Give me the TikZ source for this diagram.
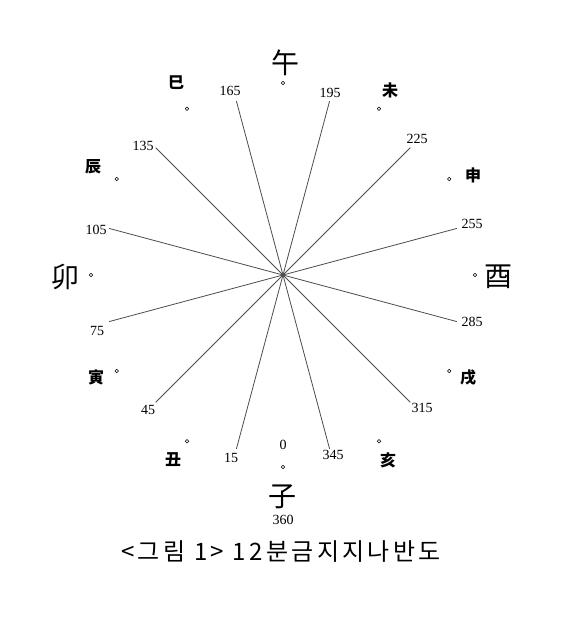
\documentclass[tikz,border=0pt]{standalone}
\usepackage{fontspec}
\setmainfont{Liberation Serif}
\newfontfamily\cjk{Noto Sans CJK KR}
\newfontfamily\capfont[LetterSpace=14]{Noto Sans CJK KR}
\begin{document}
\begin{tikzpicture}[x=1pt,y=-1pt,
  ray/.style={draw=black!70, line width=0.8pt},
  num/.style={font=\fontsize{14}{14}\selectfont, inner sep=0pt},
  bigch/.style={font=\cjk\fontsize{28}{28}\selectfont, inner sep=0pt},
  smallch/.style={font=\cjk\bfseries\fontsize{16}{16}\selectfont, inner sep=0pt},
  ring/.style={circle, draw=black, line width=0.5pt, inner sep=0pt, minimum size=3.5pt}]
\useasboundingbox (0,0) rectangle (562,622);
\coordinate (O) at (283,275);
% ray end points
\foreach \n in {15,45,75,105,135,165,195,225,255,285,315,345}
  \coordinate (e\n) at ([shift={(O)}] \n-270:180);
\foreach \n in {15,45,75,105,135,165}{
  \pgfmathtruncatemacro{\m}{\n+180}
  \draw[ray] (e\n) -- (e\m);
}
% number labels
\node[num] (n0) at (283,445) {0};
\node[num] (n15) at (231,458) {15};
\node[num] (n45) at (148,410) {45};
\node[num] (n75) at (97,331) {75};
\node[num] (n105) at (96,230) {105};
\node[num] (n135) at (143,146) {135};
\node[num] (n165) at (230,91) {165};
\node[num] (n195) at (330,93) {195};
\node[num] (n225) at (417,139) {225};
\node[num] (n255) at (472,224) {255};
\node[num] (n285) at (472,322) {285};
\node[num] (n315) at (422,408) {315};
\node[num] (n345) at (333,455) {345};
\node[num] (n360) at (283,520) {360};
% small rings
\foreach \a/\nm in {0/r0,30/r30,60/r60,90/r90,120/r120,150/r150,180/r180,210/r210,240/r240,270/r270,300/r300,330/r330}
  \node[ring] (\nm) at ([shift={(O)}] \a-270:192) {};
% branch characters
\node[bigch] (zi) at (282,497) {子};
\node[smallch] (chou) at (173,460) {丑};
\node[smallch] (yin) at (96,377) {寅};
\node[bigch] (mao) at (65,277) {卯};
\node[smallch] (chen) at (93,167) {辰};
\node[smallch] (si) at (176,83) {巳};
\node[bigch] (wu) at (285,63) {午};
\node[smallch] (wei) at (390,90) {未};
\node[smallch] (shen) at (473,175) {申};
\node[bigch] (you) at (498,277) {酉};
\node[smallch] (xu) at (468,378) {戌};
\node[smallch] (hai) at (388,460) {亥};
% caption
\node[font=\capfont\fontsize{24}{24}\selectfont, inner sep=0pt] (cap) at (281,552) {<그림 1> 12분금지지나반도};
\end{tikzpicture}
\end{document}
